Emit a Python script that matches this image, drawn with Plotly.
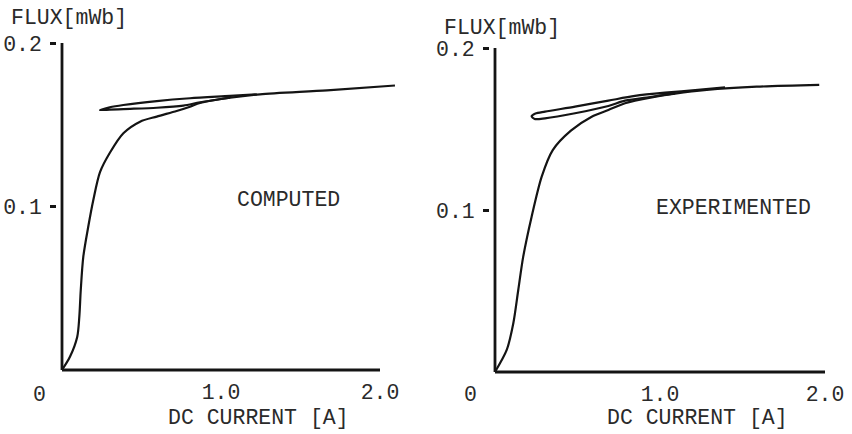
import plotly.graph_objects as go

# ---------------- data ----------------
# COMPUTED panel: initial magnetization curve
comp_x = [0, 0.050, 0.096, 0.109, 0.118, 0.134, 0.165, 0.197, 0.239, 0.302, 0.386,
          0.491, 0.596, 0.721, 0.805, 0.868, 1.057, 1.245, 1.667, 2.094]
comp_y = [0, 0.0081, 0.0204, 0.0326, 0.0489, 0.0693, 0.0876, 0.104, 0.121, 0.133, 0.1448,
          0.1519, 0.155, 0.1584, 0.161, 0.1633, 0.1665, 0.1686, 0.171, 0.174]
# COMPUTED panel: minor loop
comp_loop_x = [1.225, 1.057, 0.805, 0.596, 0.386, 0.30, 0.239, 0.30, 0.386, 0.596, 0.763, 0.868, 1.057]
comp_loop_y = [0.1686, 0.1676, 0.1662, 0.1645, 0.1621, 0.1607, 0.159, 0.1592, 0.1596, 0.1604, 0.1617, 0.1637, 0.1665]

# EXPERIMENTED panel: initial magnetization curve
exp_x = [0, 0.071, 0.111, 0.141, 0.171, 0.222, 0.283, 0.35, 0.46, 0.586, 0.687, 0.788,
         0.95, 1.091, 1.283, 1.586, 1.965]
exp_y = [0, 0.0136, 0.0301, 0.0506, 0.0712, 0.0959, 0.1206, 0.137, 0.149, 0.1576, 0.1617, 0.1659,
         0.1695, 0.1718, 0.1741, 0.1761, 0.1772]
# EXPERIMENTED panel: minor loop
exp_loop_x = [1.394, 1.230, 1.030, 0.848, 0.687, 0.485, 0.303, 0.245, 0.222, 0.240, 0.303, 0.485, 0.687, 0.788, 0.950, 1.091]
exp_loop_y = [0.1757, 0.1741, 0.1724, 0.1704, 0.1675, 0.1638, 0.1607, 0.1595, 0.1578, 0.1562, 0.1566, 0.1597, 0.1642, 0.1675, 0.1699, 0.172]

x_ticks = [1.0, 2.0]
x_tick_text = ["1.0", "2.0"]
y_ticks = [0.1, 0.2]
y_tick_text = ["0.1", "0.2"]

# ---------------- styling ----------------
INK = "#141414"
TXT = "#2a2a2a"
FONT = dict(family="Liberation Mono, Courier New, monospace", size=21.5, color=TXT)
W, H = 852, 434

fig = go.Figure()

def add_curve(x, y, xa, ya):
    fig.add_trace(go.Scatter(x=x, y=y, mode="lines", xaxis=xa, yaxis=ya,
                             line=dict(color=INK, width=2.2, shape="spline", smoothing=0.8),
                             showlegend=False, hoverinfo="skip"))

add_curve(comp_x, comp_y, "x", "y")
add_curve(comp_loop_x, comp_loop_y, "x", "y")
add_curve(exp_x, exp_y, "x2", "y2")
add_curve(exp_loop_x, exp_loop_y, "x2", "y2")

# pixel geometry of the two panels (origin pixel, pixels per unit)
L_x0, L_xper = 62, 159
L_y0, L_yper = 370, 327 / 0.2
R_x0, R_xper = 495, 165
R_y0, R_yper = 372, 324 / 0.2
XLO, XHI = -0.03, 2.1
YLO, YHI = -0.004, 0.204

def xdom(x0, per):
    return [(x0 + XLO * per) / W, (x0 + XHI * per) / W]

def xaxis_labels(x0, per, anchor):
    # carries the tick labels (no tick marks so labels sit closer to the axis)
    return dict(domain=xdom(x0, per), range=[XLO, XHI], anchor=anchor,
                showgrid=False, zeroline=False, showline=False, automargin=False,
                tickmode="array", tickvals=x_ticks, ticktext=x_tick_text,
                ticks="", tickfont=FONT, fixedrange=True)

def xaxis_marks(x0, per, anchor, over):
    # carries only the tick marks
    return dict(domain=xdom(x0, per), range=[XLO, XHI], anchor=anchor, overlaying=over,
                showgrid=False, zeroline=False, showline=False, automargin=False,
                tickmode="array", tickvals=x_ticks, showticklabels=False,
                ticks="outside", ticklen=8, tickwidth=2.5, tickcolor=INK, fixedrange=True)

def yaxis_cfg(y0, per, anchor):
    return dict(domain=[1 - (y0 - YLO * per) / H, 1 - (y0 - YHI * per) / H], range=[YLO, YHI],
                showgrid=False, zeroline=False, showline=False, anchor=anchor, automargin=False,
                tickmode="array", tickvals=y_ticks, ticktext=y_tick_text,
                ticks="outside", ticklen=6, tickwidth=2.5, tickcolor=INK,
                tickfont=FONT, ticklabelstandoff=4, fixedrange=True)

fig.update_layout(
    template="none",
    width=W, height=H, autosize=False,
    margin=dict(l=0, r=0, t=0, b=0, pad=0),
    paper_bgcolor="white", plot_bgcolor="rgba(0,0,0,0)",
    xaxis=xaxis_labels(L_x0, L_xper, "y"),
    yaxis=yaxis_cfg(L_y0, L_yper, "x"),
    xaxis2=xaxis_labels(R_x0, R_xper, "y2"),
    yaxis2=yaxis_cfg(R_y0, R_yper, "x2"),
    xaxis3=xaxis_marks(L_x0, L_xper, "y", "x"),
    xaxis4=xaxis_marks(R_x0, R_xper, "y2", "x2"),
    font=FONT,
)

# axis lines (stop at the last tick, as in the original)
for xr, yr in (("x", "y"), ("x2", "y2")):
    fig.add_shape(type="line", xref=xr, yref=yr, x0=0, y0=0, x1=x_ticks[-1], y1=0,
                  line=dict(color=INK, width=2.8))
    fig.add_shape(type="line", xref=xr, yref=yr, x0=0, y0=0, x1=0, y1=y_ticks[-1],
                  line=dict(color=INK, width=2.8))

def ann(text, px, py, xanchor="center"):
    fig.add_annotation(text=text, x=px / W, y=1 - py / H, xref="paper", yref="paper",
                       xanchor=xanchor, yanchor="middle", showarrow=False, font=FONT)

# left panel texts
ann("FLUX[mWb]", 9, 18, "left")
ann("0", 39, 395)
ann("DC CURRENT [A]", 258, 418)
ann("COMPUTED", 288, 200)
# right panel texts
ann("FLUX[mWb]", 442, 28, "left")
ann("0", 470, 395)
ann("DC CURRENT [A]", 697, 418)
ann("EXPERIMENTED", 733, 208)

fig.write_html("out.html")
